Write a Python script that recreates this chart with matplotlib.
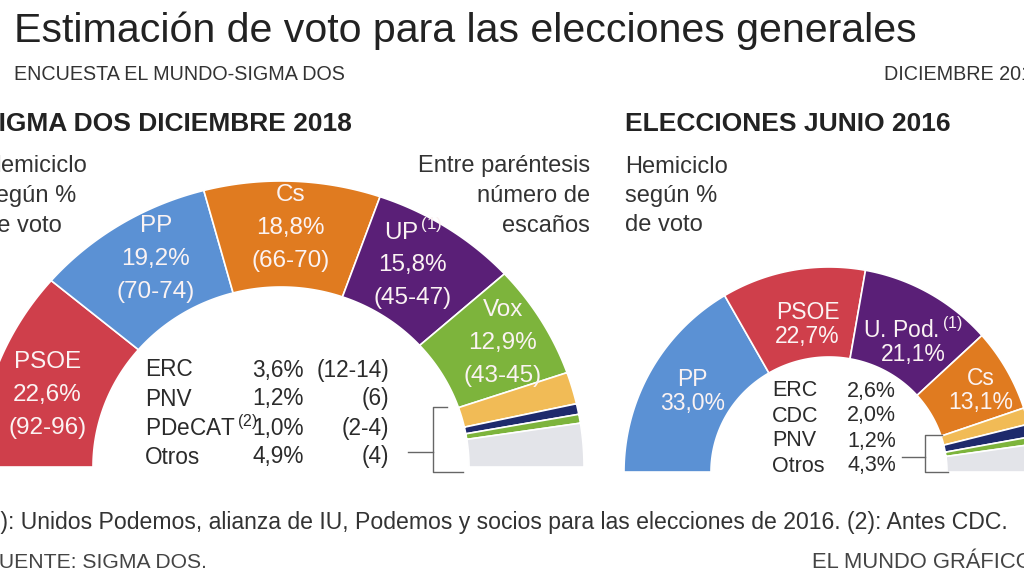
import numpy as np
import matplotlib.pyplot as plt
from matplotlib import font_manager
from matplotlib.patches import Polygon

plt.rcParams['font.family'] = ['Liberation Sans', 'DejaVu Sans']
plt.rcParams['mathtext.fontset'] = 'custom'
plt.rcParams['mathtext.rm'] = 'Liberation Sans'

# Sigma Dos, diciembre 2018
parties_2018 = ["PSOE", "PP", "Cs", "UP", "Vox", "ERC", "PNV", "PDeCAT", "Otros"]
votes_2018 = [22.6, 19.2, 18.8, 15.8, 12.9, 3.6, 1.2, 1.0, 4.9]
seats_2018 = ["(92-96)", "(70-74)", "(66-70)", "(45-47)", "(43-45)",
              "(12-14)", "(6)", "(2-4)", "(4)"]

# Elecciones junio 2016
parties_2016 = ["PP", "PSOE", "U. Pod.", "Cs", "ERC", "CDC", "PNV", "Otros"]
votes_2016 = [33.0, 22.7, 21.1, 13.1, 2.6, 2.0, 1.2, 4.3]

notes = {"UP": "(1)", "U. Pod.": "(1)", "PDeCAT": "(2)"}

RED, BLUE, ORANGE, PURPLE = "#cf3f4b", "#5b91d4", "#e07b20", "#5a1f77"
GREEN, YELLOW, NAVY, GREY = "#7db43c", "#f1bb56", "#1e2a6c", "#e3e4e9"
colors_2018 = [RED, BLUE, ORANGE, PURPLE, GREEN, YELLOW, NAVY, GREEN, GREY]
colors_2016 = [BLUE, RED, PURPLE, ORANGE, YELLOW, NAVY, GREEN, GREY]

TXT = "#2b2b2b"

# small hand nudges (px) for the labels inside the arcs
nudge_2018 = [(5, 12), (10, -3), (0, 2), (-8, 0), (3, 0)]
nudge_2016 = [(4, -1), (7, 10), (5, 10), (12, -2)]

# footnotes use a condensed face if there is one
installed = {f.name for f in font_manager.fontManager.ttflist}
if "Liberation Sans Narrow" in installed:
    NARROW, nscale = "Liberation Sans Narrow", 1.2
else:
    NARROW, nscale = "Liberation Sans", 1.0


def pct(v):
    return f"{v:.1f}%".replace(".", ",")


def name(p):
    if p in notes:
        return p + r"$^{\,\mathrm{" + notes[p] + "}}$"
    return p


def hemicycle(ax, votes, colors, cx, cy, rout, rin):
    """ring sectors from 180 to 0 degrees, rout/rin are (rx, ry)"""
    total = sum(votes)
    edges = 180 - np.concatenate([[0], np.cumsum(votes)]) / total * 180
    for a0, a1, c in zip(edges[:-1], edges[1:], colors):
        t = np.radians(np.linspace(a0, a1, 60))
        xo, yo = cx + rout[0] * np.cos(t), cy - rout[1] * np.sin(t)
        xi, yi = cx + rin[0] * np.cos(t[::-1]), cy - rin[1] * np.sin(t[::-1])
        pts = np.column_stack([np.r_[xo, xi], np.r_[yo, yi]])
        ax.add_patch(Polygon(pts, closed=True, facecolor=c, edgecolor="white", lw=1.2))
    return (edges[:-1] + edges[1:]) / 2


def arc_labels(ax, mids, lines, nudges, cx, cy, rout, rin, frac, dy, size):
    for m, ls, (nx, ny) in zip(mids, lines, nudges):
        t = np.radians(m)
        x = cx + (rin[0] + frac * (rout[0] - rin[0])) * np.cos(t) + nx
        y = cy - (rin[1] + frac * (rout[1] - rin[1])) * np.sin(t) + ny
        y0 = y - dy * (len(ls) - 1) / 2
        for i, s in enumerate(ls):
            ax.text(x, y0 + i * dy, s, ha="center", va="center", color="#fbf3f3", fontsize=size)


fig = plt.figure(figsize=(10.24, 5.76), dpi=100)
ax = fig.add_axes([0, 0, 1, 1])
ax.set_xlim(0, 1024)
ax.set_ylim(576, 0)
ax.axis("off")

# titles
ax.text(14, 31, "Estimación de voto para las elecciones generales", fontsize=29.6,
        color="#222222", va="center", ha="left")
ax.text(14, 75, "ENCUESTA EL MUNDO-SIGMA DOS", fontsize=14.2, color="#333333", va="center")
ax.text(884, 75, "DICIEMBRE 2018", fontsize=14.2, color="#333333", va="center")
ax.text(-19, 124, "SIGMA DOS DICIEMBRE 2018", fontsize=19, fontweight="bold",
        color="#222222", va="center")
ax.text(625, 124, "ELECCIONES JUNIO 2016", fontsize=19, fontweight="bold",
        color="#222222", va="center")

for i, s in enumerate(["Hemiciclo", "según %", "de voto"]):
    ax.text(-16, 166 + 30 * i, s, fontsize=17, color="#333333", va="center")
    ax.text(625, 167 + 29 * i, s, fontsize=17, color="#333333", va="center")
for i, s in enumerate(["Entre paréntesis", "número de", "escaños"]):
    ax.text(590, 166 + 30 * i, s, fontsize=17, color="#333333", va="center", ha="right")

# left hemicycle (2018)
c1, r1o, r1i = (281, 467), (303, 286), (188, 180)
mids = hemicycle(ax, votes_2018, colors_2018, *c1, r1o, r1i)
lab = [[name(p), pct(v), s] for p, v, s in zip(parties_2018[:5], votes_2018[:5], seats_2018[:5])]
arc_labels(ax, mids[:5], lab, nudge_2018, *c1, r1o, r1i, 0.58, 33, 17.5)

for i, (p, v, s) in enumerate(zip(parties_2018[5:], votes_2018[5:], seats_2018[5:])):
    y = 370 + 29 * i
    ax.text(145, y, name(p), fontsize=16.3, color=TXT, va="center")
    ax.text(304, y, pct(v), fontsize=16.3, color=TXT, va="center", ha="right")
    ax.text(389, y, s, fontsize=16.3, color=TXT, va="center", ha="right")

# bracket pointing to the small parties
ax.plot([447, 433, 433, 463], [407, 407, 472, 472], color="#666666", lw=1)
ax.plot([408, 433], [452, 452], color="#666666", lw=1)

# right hemicycle (2016)
c2, r2o, r2i = (829, 472), (205, 205), (118, 115)
mids = hemicycle(ax, votes_2016, colors_2016, *c2, r2o, r2i)
lab = [[name(p), pct(v)] for p, v in zip(parties_2016[:4], votes_2016[:4])]
arc_labels(ax, mids[:4], lab, nudge_2016, *c2, r2o, r2i, 0.5, 24, 16.5)

for i, (p, v) in enumerate(zip(parties_2016[4:], votes_2016[4:])):
    y = 391 + 25 * i
    ax.text(772, y, name(p), fontsize=15.5, color=TXT, va="center")
    ax.text(896, y, pct(v), fontsize=15.5, color=TXT, va="center", ha="right")

ax.plot([942, 925, 925, 948], [435, 435, 472, 472], color="#666666", lw=1)
ax.plot([902, 925], [457, 457], color="#666666", lw=1)

# footnotes
ax.text(-20, 522, "(1): Unidos Podemos, alianza de IU, Podemos y socios para las "
        "elecciones de 2016. (2): Antes CDC.", fontsize=16.6 * nscale, family=NARROW,
        color="#333333", va="center")
ax.text(-14, 562, "FUENTE: SIGMA DOS.", fontsize=15.2 * nscale, family=NARROW,
        color="#444444", va="center")
ax.text(812, 562, "EL MUNDO GRÁFICO", fontsize=15.8 * nscale, family=NARROW,
        color="#444444", va="center")

fig.savefig("out.png", dpi=100)
